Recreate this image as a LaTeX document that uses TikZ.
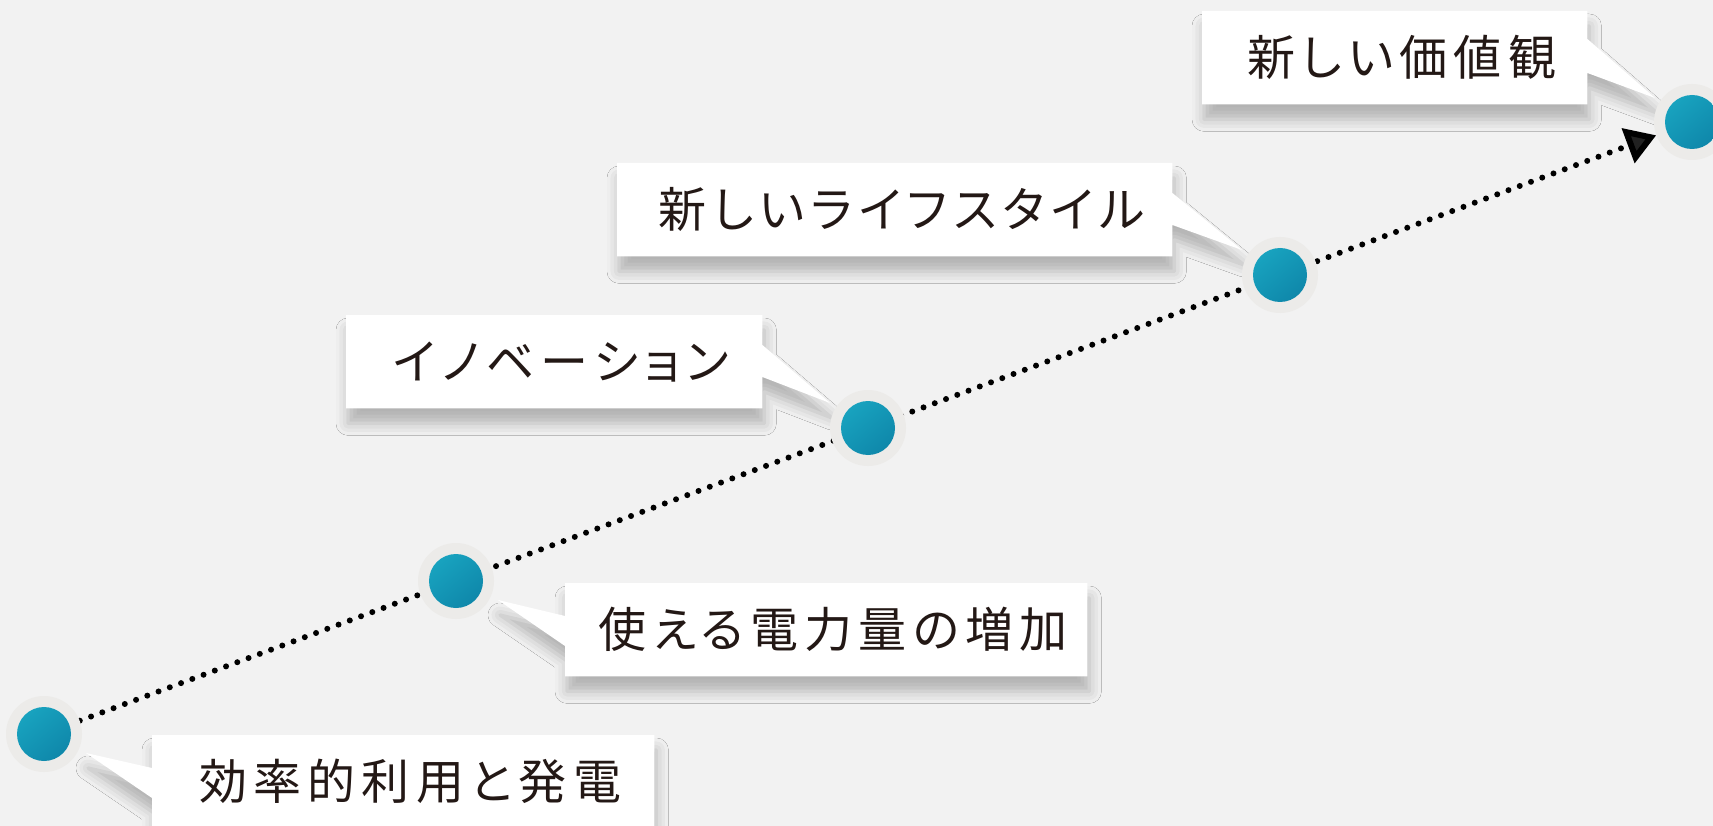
\documentclass[tikz,border=0pt]{standalone}
\usepackage{fontspec}
\newfontfamily\jp{Noto Sans CJK JP}[RawFeature={+palt},LetterSpace=13]
\usetikzlibrary{arrows.meta,shadows.blur,backgrounds,calc}
\definecolor{bgc}{HTML}{F2F2F2}
\definecolor{halocol}{HTML}{ECEBE9}
\definecolor{dotA}{HTML}{1AA8C3}
\definecolor{dotB}{HTML}{0D82A6}
\definecolor{ink}{HTML}{231815}
\begin{document}
\begin{tikzpicture}[x=1pt,y=-1pt,
  halo/.style={circle,fill=halocol,minimum size=76pt,inner sep=0pt,
    path picture={\shade[top color=dotA,bottom color=dotB,shading angle=40]
      (path picture bounding box.center) circle[radius=27pt];}},
  box/.style={anchor=north west,minimum height=93pt,inner sep=0pt,text=ink,
    font=\jp\fontsize{48pt}{56pt}\selectfont,execute at begin node={\kern14pt}},
  callout/.style={fill=white,blur shadow={shadow xshift=2pt,shadow yshift=-15pt,
    shadow blur radius=12pt,shadow opacity=26,shadow blur extra rounding=0pt}},
  dotline/.style={line width=6pt,line cap=round,dash pattern=on 0pt off 12pt,
    -{Triangle[length=30pt,width=36pt]}}]
\useasboundingbox (0,0) rectangle (1713,826);
% markers
\node[halo] (c1) at (44,734) {};
\node[halo] (c2) at (456,581) {};
\node[halo] (c3) at (868,428) {};
\node[halo] (c4) at (1280,275) {};
\node[halo] (c5) at (1692,122) {};
% labels
\node[box,minimum width=502pt] (b1) at (152,735) {効率的利用と発電};
\node[box,minimum width=522pt] (b2) at (565,583) {使える電力量の増加};
\node[box,minimum width=416pt] (b3) at (346,315) {イノベーション};
\node[box,minimum width=555pt] (b4) at (617,163) {新しいライフスタイル};
\node[box,minimum width=385pt] (b5) at (1202,11) {新しい価値観};
\begin{pgfonlayer}{background}
\fill[bgc] (0,0) rectangle (1713,826);
\path[callout] (b1.north west) -- (b1.north east) -- (b1.south east) -- (b1.south west)
  -- ([yshift=-63pt]b1.north west) -- ($(c1.center)+(42,19)$) -- ([yshift=-33pt]b1.north west) -- cycle;
\path[callout] (b2.north west) -- (b2.north east) -- (b2.south east) -- (b2.south west)
  -- ([yshift=-63pt]b2.north west) -- ($(c2.center)+(42,19)$) -- ([yshift=-33pt]b2.north west) -- cycle;
\path[callout] (b3.north west) -- (b3.north east) -- ([yshift=-30pt]b3.north east)
  -- ($(c3.center)+(-38,-25)$) -- ([yshift=-62pt]b3.north east) -- (b3.south east) -- (b3.south west) -- cycle;
\path[callout] (b4.north west) -- (b4.north east) -- ([yshift=-30pt]b4.north east)
  -- ($(c4.center)+(-38,-25)$) -- ([yshift=-62pt]b4.north east) -- (b4.south east) -- (b4.south west) -- cycle;
\path[callout] (b5.north west) -- (b5.north east) -- ([yshift=-28pt]b5.north east)
  -- ($(c5.center)+(-37,-24)$) -- ([yshift=-62pt]b5.north east) -- (b5.south east) -- (b5.south west) -- cycle;
\draw[dotline] (c1) -- (c5);
\end{pgfonlayer}
\end{tikzpicture}
\end{document}
